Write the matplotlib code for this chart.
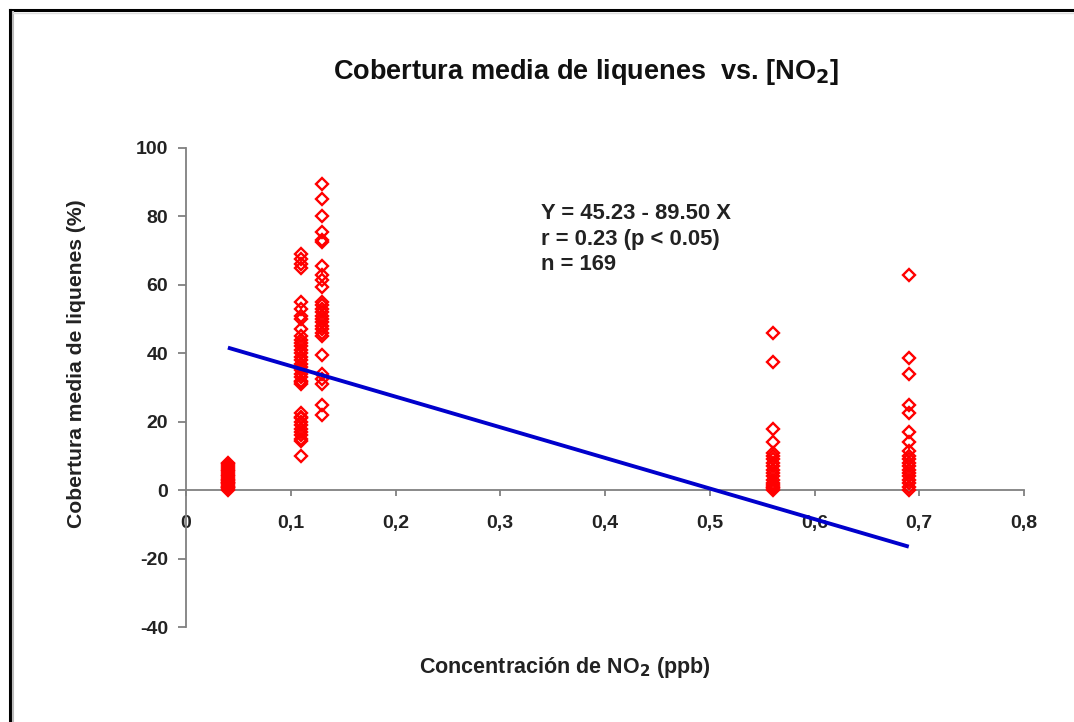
import matplotlib
matplotlib.use("Agg")
import matplotlib.pyplot as plt
from matplotlib.lines import Line2D
import numpy as np

plt.rcParams['font.family'] = ['Liberation Sans', 'DejaVu Sans']
plt.rcParams['font.weight'] = 'bold'
plt.rcParams['axes.unicode_minus'] = False

# ---- data ----
x_groups = [0.04, 0.11, 0.13, 0.56, 0.69]
y_004 = [0, 0.5, 1, 1.5, 2, 2.5, 3, 3.5, 4, 4.5, 5, 5.5, 6, 6.5, 7, 7.5, 8, 1, 2, 3]
y_011 = [69, 67.5, 66, 65, 55, 53, 51, 50, 47, 45, 44, 43, 42, 41, 40, 39, 38, 37,
         36, 35, 34, 33, 32, 31.5, 31, 22.5, 21.5, 21, 20, 19, 18, 17, 16, 15, 14.5, 10]
y_013 = [89.5, 85, 80, 75.5, 73, 72.5, 65.5, 63, 61.5, 59.5, 55, 54, 53, 52, 51, 50,
         49, 48, 47, 46, 45, 39.5, 34, 32.5, 31, 25, 22]
y_056 = [45.8, 37.5, 18, 14, 11, 10, 9, 8, 7, 6, 5, 4, 3, 2, 1.5, 1, 0.5, 0]
y_069 = [62.8, 38.5, 34, 25, 22.5, 17, 14, 11.5, 10, 9, 8, 7, 6, 5, 4, 3, 2, 1, 0]
y_groups = [y_004, y_011, y_013, y_056, y_069]

intercept = 45.23
slope = -89.50
line_x = [0.04, 0.69]

x_ticks = [0, 0.1, 0.2, 0.3, 0.4, 0.5, 0.6, 0.7, 0.8]
x_ticklabels = ["0", "0,1", "0,2", "0,3", "0,4", "0,5", "0,6", "0,7", "0,8"]
y_ticks = [-40, -20, 0, 20, 40, 60, 80, 100]

title = "Cobertura media de liquenes  vs. [NO$_\\mathbf{2}$]"
xlabel = "Concentración de NO$_\\mathbf{2}$ (ppb)"
ylabel = "Cobertura media de liquenes (%)"
annot = "Y = 45.23 - 89.50 X\nr = 0.23 (p < 0.05)\nn = 169"

# ---- figure ----
W, H = 1074, 722
fig = plt.figure(figsize=(W / 100, H / 100), dpi=100)
fig.patch.set_facecolor('white')

ax = fig.add_axes([186 / W, 1 - 627 / H, (1024 - 186) / W, (627 - 148) / H])
ax.set_xlim(0, 0.8)
ax.set_ylim(-40, 100)
ax.patch.set_alpha(0)

axis_col = '#808080'
for s in ['top', 'right']:
    ax.spines[s].set_visible(False)
ax.spines['bottom'].set_position(('data', 0))
ax.spines['left'].set_color(axis_col)
ax.spines['bottom'].set_color(axis_col)
ax.spines['left'].set_linewidth(1.3)
ax.spines['bottom'].set_linewidth(1.3)

for xv, ys in zip(x_groups, y_groups):
    ax.plot([xv] * len(ys), ys, linestyle='none', marker='D', ms=5.8,
            mfc='none', mec='#FF0000', mew=1.7, zorder=3)

lx = np.array(line_x)
ax.plot(lx, intercept + slope * lx, color='#0000CC', lw=2.8, zorder=4,
        solid_capstyle='butt')

ax.set_xticks(x_ticks)
ax.set_xticklabels(x_ticklabels)
ax.set_yticks(y_ticks)
ax.tick_params(axis='x', direction='out', length=4, width=1.3, color=axis_col,
               labelsize=14, pad=14)
ax.tick_params(axis='y', direction='out', length=6, width=1.3, color=axis_col,
               labelsize=14, pad=7)
for lab in ax.get_xticklabels() + ax.get_yticklabels():
    lab.set_fontweight('bold')
    lab.set_color('#222222')

ax.text(0.339, 84.0, annot, fontsize=15.8, fontweight='bold', va='top', ha='left',
        color='#222222', linespacing=1.3)

fig.text(586 / W, 1 - 72 / H, title, fontsize=19.5, fontweight='bold',
         ha='center', va='center', color='#111111')
fig.text(565 / W, 1 - 667 / H, xlabel, fontsize=15.5, fontweight='bold',
         ha='center', va='center', color='#222222')
fig.text(77 / W, 1 - 364 / H, ylabel, fontsize=15.2, fontweight='bold',
         ha='center', va='center', rotation=90, color='#222222')

# outer frame (top and left edges)
fig.add_artist(Line2D([9.5 / W, 1], [1 - 9.5 / H] * 2, transform=fig.transFigure,
                      color='black', lw=2.2))
fig.add_artist(Line2D([9.5 / W] * 2, [0, 1 - 9.5 / H], transform=fig.transFigure,
                      color='black', lw=2.2))
fig.add_artist(Line2D([13 / W] * 2, [0, 1 - 12 / H], transform=fig.transFigure,
                      color='#bbbbbb', lw=1.5))
fig.add_artist(Line2D([13 / W, 1], [1 - 12.5 / H] * 2, transform=fig.transFigure,
                      color='#dddddd', lw=1.0))

fig.savefig('out.png', dpi=100)
